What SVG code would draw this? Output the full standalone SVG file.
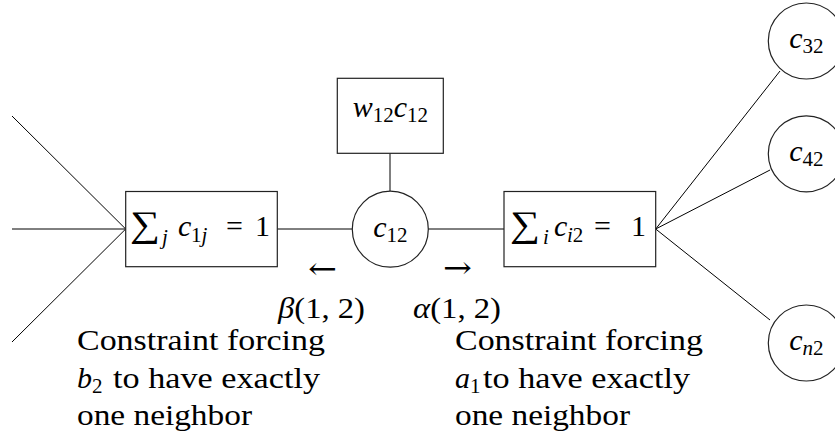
<svg xmlns="http://www.w3.org/2000/svg" width="835" height="439" viewBox="0 0 835 439">
<style>
  .node { fill: #fff; stroke: #222; stroke-width: 1.2; }
  .edge { stroke: #000; stroke-width: 1; fill: none; }
  .it { font-style: italic; }
  .sub { font-size: 21px; }
</style>
<rect width="835" height="439" fill="#fff"/>
<g id="connectors">
  <line class="edge" x1="12" y1="116" x2="125.7" y2="229"/>
  <line class="edge" x1="12" y1="229" x2="125.7" y2="229"/>
  <line class="edge" x1="12" y1="342" x2="125.7" y2="229"/>
  <line class="edge" x1="277.3" y1="229" x2="352" y2="229"/>
  <line class="edge" x1="428" y1="229" x2="504" y2="229"/>
  <line class="edge" x1="390" y1="153.3" x2="390" y2="191"/>
  <line class="edge" x1="655.7" y1="229" x2="780" y2="71"/>
  <line class="edge" x1="655.7" y1="229" x2="770" y2="170"/>
  <line class="edge" x1="655.7" y1="229" x2="770" y2="320"/>
</g>
<g id="sumL">
  <rect class="node" x="125.7" y="191.5" width="151.6" height="75.2"/>
  <text x="130" y="236" font-family="Liberation Serif" font-size="36" textLength="30" lengthAdjust="spacingAndGlyphs">∑</text>
  <text y="236" font-family="Liberation Serif" font-size="30"><tspan class="it sub" x="162" y="244">j</tspan><tspan class="it" x="178" y="236">c</tspan><tspan class="sub" x="191" y="242">1</tspan><tspan class="it sub">j</tspan><tspan x="226" y="236">=</tspan><tspan x="255">1</tspan></text>
</g>
<g id="c12">
  <circle class="node" cx="390.3" cy="229.2" r="38"/>
  <text x="390.3" y="236.5" text-anchor="middle" font-family="Liberation Serif" font-size="30"><tspan class="it">c</tspan><tspan class="sub" dy="5">12</tspan></text>
</g>
<g id="w12c12">
  <rect class="node" x="337.3" y="78.3" width="106" height="75"/>
  <text x="390.3" y="117" text-anchor="middle" font-family="Liberation Serif" font-size="30"><tspan class="it">w</tspan><tspan class="sub" dy="5">12</tspan><tspan class="it" dy="-5">c</tspan><tspan class="sub" dy="5">12</tspan></text>
</g>
<g id="sumR">
  <rect class="node" x="504" y="191.5" width="151.7" height="75.2"/>
  <text x="510" y="236" font-family="Liberation Serif" font-size="36" textLength="30" lengthAdjust="spacingAndGlyphs">∑</text>
  <text y="236" font-family="Liberation Serif" font-size="30"><tspan class="it sub" x="543" y="244">i</tspan><tspan class="it" x="554" y="236">c</tspan><tspan class="it sub" x="567" y="242">i</tspan><tspan class="sub">2</tspan><tspan x="594" y="236">=</tspan><tspan x="631">1</tspan></text>
</g>
<g id="c32">
  <circle class="node" cx="806.3" cy="41" r="38"/>
  <text x="806.3" y="48" text-anchor="middle" font-family="Liberation Serif" font-size="30"><tspan class="it">c</tspan><tspan class="sub" dy="5">32</tspan></text>
</g>
<g id="c42">
  <circle class="node" cx="806.3" cy="153.8" r="38"/>
  <text x="806.3" y="161" text-anchor="middle" font-family="Liberation Serif" font-size="30"><tspan class="it">c</tspan><tspan class="sub" dy="5">42</tspan></text>
</g>
<g id="cn2">
  <circle class="node" cx="806.3" cy="343" r="38"/>
  <text x="806.3" y="350" text-anchor="middle" font-family="Liberation Serif" font-size="30"><tspan class="it">c</tspan><tspan class="sub it" dy="5">n</tspan><tspan class="sub">2</tspan></text>
</g>
<g id="labels">
  <text x="308" y="279" font-family="DejaVu Serif" font-size="30" textLength="29" lengthAdjust="spacingAndGlyphs">←</text>
  <text x="443" y="278" font-family="DejaVu Serif" font-size="30" textLength="29" lengthAdjust="spacingAndGlyphs">→</text>
  <text x="278" y="318" font-family="Liberation Serif" font-size="30" textLength="87" lengthAdjust="spacingAndGlyphs"><tspan class="it">β</tspan>(1, 2)</text>
  <text x="413" y="318" font-family="Liberation Serif" font-size="30" textLength="88" lengthAdjust="spacingAndGlyphs"><tspan class="it">α</tspan>(1, 2)</text>
  <text x="77" y="350" font-family="Liberation Serif" font-size="30" textLength="248" lengthAdjust="spacingAndGlyphs">Constraint forcing</text>
  <text x="77" y="388" font-family="Liberation Serif" font-size="30"><tspan class="it">b</tspan><tspan class="sub" dy="5">2</tspan></text>
  <text x="113" y="388" font-family="Liberation Serif" font-size="30" textLength="207" lengthAdjust="spacingAndGlyphs">to have exactly</text>
  <text x="77" y="425" font-family="Liberation Serif" font-size="30" textLength="175" lengthAdjust="spacingAndGlyphs">one neighbor</text>
  <text x="455" y="350" font-family="Liberation Serif" font-size="30" textLength="248" lengthAdjust="spacingAndGlyphs">Constraint forcing</text>
  <text x="455" y="388" font-family="Liberation Serif" font-size="30"><tspan class="it">a</tspan><tspan class="sub" dy="5">1</tspan></text>
  <text x="483" y="388" font-family="Liberation Serif" font-size="30" textLength="207" lengthAdjust="spacingAndGlyphs">to have exactly</text>
  <text x="455" y="425" font-family="Liberation Serif" font-size="30" textLength="175" lengthAdjust="spacingAndGlyphs">one neighbor</text>
</g>
</svg>
